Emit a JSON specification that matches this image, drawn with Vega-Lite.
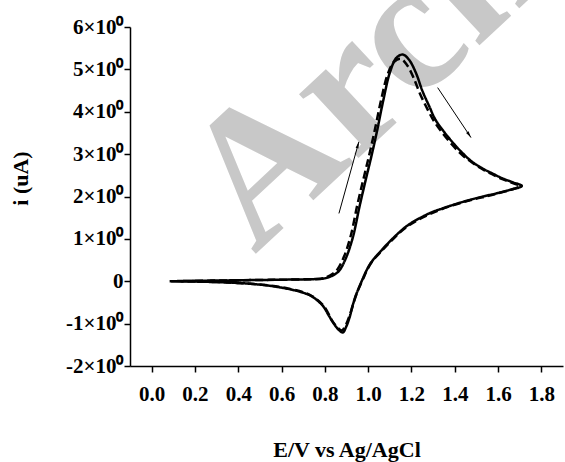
{
  "$schema": "https://vega.github.io/schema/vega-lite/v6.json",
  "width": 433,
  "height": 339,
  "autosize": {"type": "none"},
  "padding": {"left": 130, "top": 27, "right": 2, "bottom": 96},
  "background": "white",
  "config": {"view": {"stroke": null}},
  "datasets": {
    "cv": [
      {"series": "a", "k": 1, "E": 0.083, "i": 0.0},
      {"series": "a", "k": 2, "E": 0.2, "i": 0.01},
      {"series": "a", "k": 3, "E": 0.35, "i": 0.02},
      {"series": "a", "k": 4, "E": 0.5, "i": 0.03},
      {"series": "a", "k": 5, "E": 0.65, "i": 0.04},
      {"series": "a", "k": 6, "E": 0.75, "i": 0.05},
      {"series": "a", "k": 7, "E": 0.79, "i": 0.06},
      {"series": "a", "k": 8, "E": 0.82, "i": 0.1},
      {"series": "a", "k": 9, "E": 0.845, "i": 0.16},
      {"series": "a", "k": 10, "E": 0.868, "i": 0.26},
      {"series": "a", "k": 11, "E": 0.9, "i": 0.58},
      {"series": "a", "k": 12, "E": 0.93, "i": 1.05},
      {"series": "a", "k": 13, "E": 0.96, "i": 1.76},
      {"series": "a", "k": 14, "E": 0.99, "i": 2.42},
      {"series": "a", "k": 15, "E": 1.015, "i": 2.95},
      {"series": "a", "k": 16, "E": 1.04, "i": 3.52},
      {"series": "a", "k": 17, "E": 1.07, "i": 4.27},
      {"series": "a", "k": 18, "E": 1.1, "i": 4.92},
      {"series": "a", "k": 19, "E": 1.13, "i": 5.27},
      {"series": "a", "k": 20, "E": 1.16, "i": 5.35},
      {"series": "a", "k": 21, "E": 1.19, "i": 5.22},
      {"series": "a", "k": 22, "E": 1.222, "i": 4.9},
      {"series": "a", "k": 23, "E": 1.25, "i": 4.5},
      {"series": "a", "k": 24, "E": 1.283, "i": 4.12},
      {"series": "a", "k": 25, "E": 1.31, "i": 3.82},
      {"series": "a", "k": 26, "E": 1.344, "i": 3.57},
      {"series": "a", "k": 27, "E": 1.39, "i": 3.28},
      {"series": "a", "k": 28, "E": 1.437, "i": 3.02},
      {"series": "a", "k": 29, "E": 1.48, "i": 2.82},
      {"series": "a", "k": 30, "E": 1.529, "i": 2.66},
      {"series": "a", "k": 31, "E": 1.575, "i": 2.54},
      {"series": "a", "k": 32, "E": 1.62, "i": 2.43},
      {"series": "a", "k": 33, "E": 1.665, "i": 2.34},
      {"series": "a", "k": 34, "E": 1.71, "i": 2.25},
      {"series": "a", "k": 35, "E": 1.65, "i": 2.15},
      {"series": "a", "k": 36, "E": 1.59, "i": 2.07},
      {"series": "a", "k": 37, "E": 1.53, "i": 2.0},
      {"series": "a", "k": 38, "E": 1.47, "i": 1.92},
      {"series": "a", "k": 39, "E": 1.41, "i": 1.83},
      {"series": "a", "k": 40, "E": 1.344, "i": 1.72},
      {"series": "a", "k": 41, "E": 1.29, "i": 1.62},
      {"series": "a", "k": 42, "E": 1.25, "i": 1.52},
      {"series": "a", "k": 43, "E": 1.21, "i": 1.41},
      {"series": "a", "k": 44, "E": 1.175, "i": 1.29},
      {"series": "a", "k": 45, "E": 1.145, "i": 1.16},
      {"series": "a", "k": 46, "E": 1.114, "i": 1.01},
      {"series": "a", "k": 47, "E": 1.085, "i": 0.86},
      {"series": "a", "k": 48, "E": 1.06, "i": 0.72},
      {"series": "a", "k": 49, "E": 1.035, "i": 0.58},
      {"series": "a", "k": 50, "E": 1.012, "i": 0.43},
      {"series": "a", "k": 51, "E": 0.992, "i": 0.25},
      {"series": "a", "k": 52, "E": 0.975, "i": 0.06},
      {"series": "a", "k": 53, "E": 0.96, "i": -0.12},
      {"series": "a", "k": 54, "E": 0.945, "i": -0.31},
      {"series": "a", "k": 55, "E": 0.928, "i": -0.58},
      {"series": "a", "k": 56, "E": 0.915, "i": -0.84},
      {"series": "a", "k": 57, "E": 0.898, "i": -1.08},
      {"series": "a", "k": 58, "E": 0.883, "i": -1.21},
      {"series": "a", "k": 59, "E": 0.865, "i": -1.15},
      {"series": "a", "k": 60, "E": 0.84, "i": -0.99},
      {"series": "a", "k": 61, "E": 0.815, "i": -0.78},
      {"series": "a", "k": 62, "E": 0.794, "i": -0.6},
      {"series": "a", "k": 63, "E": 0.76, "i": -0.43},
      {"series": "a", "k": 64, "E": 0.73, "i": -0.33},
      {"series": "a", "k": 65, "E": 0.68, "i": -0.24},
      {"series": "a", "k": 66, "E": 0.62, "i": -0.17},
      {"series": "a", "k": 67, "E": 0.55, "i": -0.11},
      {"series": "a", "k": 68, "E": 0.48, "i": -0.07},
      {"series": "a", "k": 69, "E": 0.36, "i": -0.03},
      {"series": "a", "k": 70, "E": 0.22, "i": -0.01},
      {"series": "a", "k": 71, "E": 0.09, "i": 0.0},
      {"series": "b", "k": 1, "E": 0.09, "i": 0.0},
      {"series": "b", "k": 2, "E": 0.35, "i": 0.02},
      {"series": "b", "k": 3, "E": 0.65, "i": 0.04},
      {"series": "b", "k": 4, "E": 0.78, "i": 0.06},
      {"series": "b", "k": 5, "E": 0.81, "i": 0.1},
      {"series": "b", "k": 6, "E": 0.835, "i": 0.17},
      {"series": "b", "k": 7, "E": 0.858, "i": 0.28},
      {"series": "b", "k": 8, "E": 0.89, "i": 0.6},
      {"series": "b", "k": 9, "E": 0.92, "i": 1.08},
      {"series": "b", "k": 10, "E": 0.95, "i": 1.8},
      {"series": "b", "k": 11, "E": 0.98, "i": 2.45},
      {"series": "b", "k": 12, "E": 1.005, "i": 2.98},
      {"series": "b", "k": 13, "E": 1.03, "i": 3.55},
      {"series": "b", "k": 14, "E": 1.06, "i": 4.28},
      {"series": "b", "k": 15, "E": 1.09, "i": 4.88},
      {"series": "b", "k": 16, "E": 1.12, "i": 5.18},
      {"series": "b", "k": 17, "E": 1.15, "i": 5.25},
      {"series": "b", "k": 18, "E": 1.18, "i": 5.1},
      {"series": "b", "k": 19, "E": 1.21, "i": 4.8},
      {"series": "b", "k": 20, "E": 1.24, "i": 4.42},
      {"series": "b", "k": 21, "E": 1.275, "i": 4.05},
      {"series": "b", "k": 22, "E": 1.305, "i": 3.77},
      {"series": "b", "k": 23, "E": 1.34, "i": 3.52},
      {"series": "b", "k": 24, "E": 1.385, "i": 3.24},
      {"series": "b", "k": 25, "E": 1.43, "i": 3.0},
      {"series": "b", "k": 26, "E": 1.48, "i": 2.8},
      {"series": "b", "k": 27, "E": 1.53, "i": 2.64},
      {"series": "b", "k": 28, "E": 1.575, "i": 2.52},
      {"series": "b", "k": 29, "E": 1.62, "i": 2.41},
      {"series": "b", "k": 30, "E": 1.665, "i": 2.32},
      {"series": "b", "k": 31, "E": 1.7, "i": 2.25},
      {"series": "b", "k": 32, "E": 1.59, "i": 2.06},
      {"series": "b", "k": 33, "E": 1.47, "i": 1.91},
      {"series": "b", "k": 34, "E": 1.344, "i": 1.71},
      {"series": "b", "k": 35, "E": 1.25, "i": 1.5},
      {"series": "b", "k": 36, "E": 1.175, "i": 1.27},
      {"series": "b", "k": 37, "E": 1.114, "i": 0.99},
      {"series": "b", "k": 38, "E": 1.06, "i": 0.7},
      {"series": "b", "k": 39, "E": 1.012, "i": 0.42},
      {"series": "b", "k": 40, "E": 0.975, "i": 0.04},
      {"series": "b", "k": 41, "E": 0.945, "i": -0.32},
      {"series": "b", "k": 42, "E": 0.915, "i": -0.8},
      {"series": "b", "k": 43, "E": 0.895, "i": -1.05},
      {"series": "b", "k": 44, "E": 0.878, "i": -1.16},
      {"series": "b", "k": 45, "E": 0.86, "i": -1.1},
      {"series": "b", "k": 46, "E": 0.835, "i": -0.94},
      {"series": "b", "k": 47, "E": 0.794, "i": -0.58},
      {"series": "b", "k": 48, "E": 0.73, "i": -0.32},
      {"series": "b", "k": 49, "E": 0.62, "i": -0.16},
      {"series": "b", "k": 50, "E": 0.48, "i": -0.07},
      {"series": "b", "k": 51, "E": 0.3, "i": -0.02},
      {"series": "b", "k": 52, "E": 0.1, "i": 0.0}
    ],
    "arrows": [
      {"name": "up", "E": 0.865, "i": 1.6, "E2": 0.957, "i2": 3.29},
      {"name": "down", "E": 1.321, "i": 4.57, "E2": 1.475, "i2": 3.39}
    ],
    "mark": [
      {"E": 0.475, "i": 0.62, "label": "Archive"}
    ]
  },
  "layer": [
    {
      "data": {"name": "mark"},
      "mark": {"type": "text", "angle": -43, "fontSize": 190, "font": "Liberation Serif", "fontWeight": "bold", "color": "#c8c8c8", "align": "left", "baseline": "alphabetic"},
      "encoding": {
        "x": {"field": "E", "type": "quantitative"},
        "y": {"field": "i", "type": "quantitative"},
        "text": {"field": "label"}
      }
    },
    {
      "data": {"name": "cv"},
      "mark": {"type": "line", "interpolate": "catmull-rom", "strokeWidth": 2.5, "color": "black", "clip": false},
      "encoding": {
        "x": {
          "field": "E", "type": "quantitative",
          "scale": {"domain": [-0.1, 1.9], "nice": false, "zero": false},
          "axis": {
            "title": "E/V vs Ag/AgCl",
            "values": [0, 0.1, 0.2, 0.3, 0.4, 0.5, 0.6, 0.7, 0.8, 0.9, 1.0, 1.1, 1.2, 1.3, 1.4, 1.5, 1.6, 1.7, 1.8],
            "labelExpr": "round(datum.value * 10) % 2 == 0 ? format(datum.value, '.1f') : ''",
            "tickSize": {"condition": {"test": "round(datum.value * 10) % 2 == 0", "value": 6}, "value": 3},
            "labelOverlap": false,
            "labelFlush": false,
            "grid": false,
            "domainColor": "black", "domainWidth": 1.5,
            "tickColor": "black", "tickWidth": 1.5,
            "labelFont": "Liberation Serif", "labelFontWeight": "bold", "labelFontSize": 21, "labelColor": "black",
            "labelPadding": 11,
            "titleFont": "Liberation Serif", "titleFontWeight": "bold", "titleFontSize": 22, "titleColor": "black",
            "titlePadding": 35
          }
        },
        "y": {
          "field": "i", "type": "quantitative",
          "scale": {"domain": [-2, 6], "nice": false, "zero": false},
          "axis": {
            "title": "i (uA)",
            "values": [-2, -1.5, -1, -0.5, 0, 0.5, 1, 1.5, 2, 2.5, 3, 3.5, 4, 4.5, 5, 5.5, 6],
            "labelExpr": "datum.value % 1 != 0 ? '' : (datum.value == 0 ? '0' : datum.value + '×10⁰')",
            "tickSize": {"condition": {"test": "datum.value % 1 == 0", "value": 6}, "value": 3},
            "labelOverlap": false,
            "labelFlush": false,
            "grid": false,
            "domainColor": "black", "domainWidth": 1.5,
            "tickColor": "black", "tickWidth": 1.5,
            "labelFont": "Liberation Serif", "labelFontWeight": "bold", "labelFontSize": 21, "labelColor": "black",
            "labelPadding": 1,
            "titleFont": "Liberation Serif", "titleFontWeight": "bold", "titleFontSize": 22, "titleColor": "black",
            "titleX": -110, "titleY": 151, "titleBaseline": "middle"
          }
        },
        "order": {"field": "k", "type": "quantitative"},
        "detail": {"field": "series"},
        "strokeDash": {"field": "series", "type": "nominal", "scale": {"domain": ["a", "b"], "range": [[1, 0], [8, 4]]}, "legend": null}
      }
    },
    {
      "data": {"name": "arrows"},
      "mark": {"type": "rule", "color": "black", "strokeWidth": 1},
      "encoding": {
        "x": {"field": "E", "type": "quantitative"},
        "y": {"field": "i", "type": "quantitative"},
        "x2": {"field": "E2"},
        "y2": {"field": "i2"}
      }
    },
    {
      "data": {"name": "arrows"},
      "transform": [{"filter": "datum.name == 'up'"}],
      "mark": {"type": "point", "shape": "M0,0L0.5,2.2L-0.5,2.2Z", "filled": true, "color": "black", "opacity": 1, "size": 36, "angle": 15.6},
      "encoding": {
        "x": {"field": "E2", "type": "quantitative"},
        "y": {"field": "i2", "type": "quantitative"}
      }
    },
    {
      "data": {"name": "arrows"},
      "transform": [{"filter": "datum.name == 'down'"}],
      "mark": {"type": "point", "shape": "M0,0L0.5,2.2L-0.5,2.2Z", "filled": true, "color": "black", "opacity": 1, "size": 36, "angle": 146.3},
      "encoding": {
        "x": {"field": "E2", "type": "quantitative"},
        "y": {"field": "i2", "type": "quantitative"}
      }
    }
  ]
}
